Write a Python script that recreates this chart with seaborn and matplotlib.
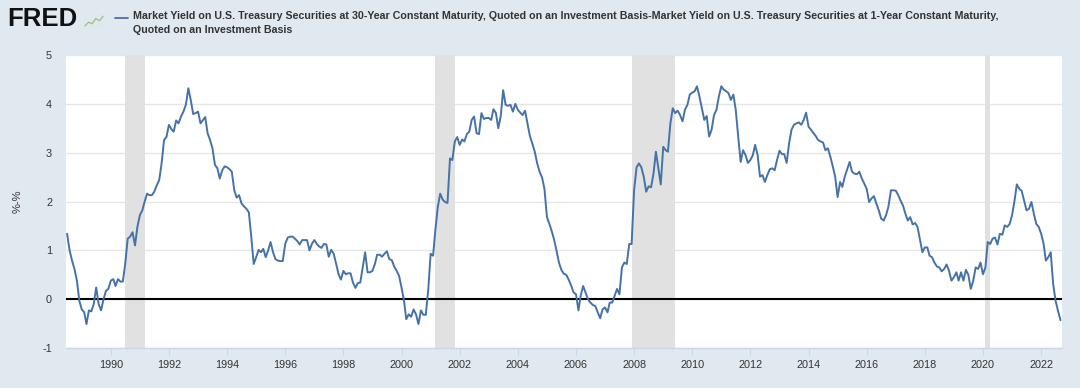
import matplotlib
matplotlib.use("Agg")
import matplotlib.pyplot as plt
import pandas as pd
import seaborn as sns

# ---------------- data ----------------
start_month = "1988-07-01"
spread_pct = [
    # 1988 (Jul-Dec)
    1.34, 1.00, 0.79, 0.62, 0.38, -0.03,
    # 1989
    -0.21, -0.27, -0.51, -0.23, -0.25, -0.10, 0.24, -0.10, -0.23, 0.00, 0.17, 0.21,
    # 1990
    0.38, 0.41, 0.27, 0.41, 0.36, 0.36, 0.72, 1.24, 1.28, 1.37, 1.10, 1.48,
    # 1991
    1.72, 1.82, 1.99, 2.16, 2.13, 2.13, 2.20, 2.33, 2.44, 2.78, 3.26, 3.32,
    # 1992
    3.57, 3.48, 3.43, 3.66, 3.60, 3.74, 3.84, 3.98, 4.32, 4.08, 3.79, 3.81,
    # 1993
    3.84, 3.60, 3.66, 3.73, 3.40, 3.26, 3.09, 2.75, 2.68, 2.47, 2.64, 2.72,
    # 1994
    2.70, 2.66, 2.61, 2.23, 2.08, 2.13, 1.96, 1.90, 1.85, 1.78, 1.27, 0.72,
    # 1995
    0.86, 1.01, 0.96, 1.03, 0.86, 1.00, 1.17, 0.96, 0.82, 0.79, 0.78, 0.78,
    # 1996
    1.13, 1.26, 1.28, 1.28, 1.24, 1.19, 1.12, 1.21, 1.21, 1.21, 1.00, 1.13,
    # 1997
    1.21, 1.13, 1.08, 1.05, 1.13, 1.12, 0.87, 1.01, 0.93, 0.73, 0.51, 0.40,
    # 1998
    0.58, 0.51, 0.53, 0.53, 0.34, 0.23, 0.33, 0.34, 0.65, 0.96, 0.55, 0.55,
    # 1999
    0.58, 0.72, 0.91, 0.91, 0.87, 0.93, 0.98, 0.82, 0.80, 0.67, 0.58, 0.48,
    # 2000
    0.24, -0.03, -0.41, -0.31, -0.36, -0.21, -0.31, -0.51, -0.23, -0.32, -0.32, 0.17,
    # 2001
    0.93, 0.89, 1.41, 1.89, 2.16, 2.04, 1.99, 1.97, 2.88, 2.85, 3.23, 3.32,
    # 2002
    3.16, 3.27, 3.23, 3.38, 3.43, 3.67, 3.74, 3.40, 3.38, 3.81, 3.69, 3.71,
    # 2003
    3.71, 3.67, 3.89, 3.81, 3.50, 3.75, 4.28, 3.98, 3.96, 3.98, 3.84, 4.00,
    # 2004
    3.88, 3.82, 3.77, 3.86, 3.60, 3.34, 3.19, 3.02, 2.78, 2.61, 2.49, 2.26,
    # 2005
    1.68, 1.54, 1.40, 1.22, 1.00, 0.75, 0.60, 0.52, 0.50, 0.40, 0.28, 0.14,
    # 2006
    0.10, -0.23, 0.07, 0.27, 0.14, 0.00, -0.07, -0.12, -0.14, -0.27, -0.39, -0.21,
    # 2007
    -0.17, -0.27, -0.07, -0.07, 0.07, 0.21, 0.10, 0.65, 0.75, 0.72, 1.13, 1.13,
    # 2008
    2.23, 2.70, 2.78, 2.70, 2.51, 2.20, 2.31, 2.29, 2.57, 3.02, 2.68, 2.35,
    # 2009
    3.12, 3.05, 3.02, 3.60, 3.91, 3.81, 3.86, 3.77, 3.64, 3.88, 3.98, 4.19,
    # 2010
    4.23, 4.26, 4.36, 4.15, 3.91, 3.67, 3.75, 3.33, 3.47, 3.77, 3.88, 4.15,
    # 2011
    4.36, 4.29, 4.26, 4.22, 4.08, 4.19, 3.88, 3.33, 2.81, 3.05, 2.95, 2.79,
    # 2012
    2.85, 2.95, 3.16, 2.95, 2.51, 2.54, 2.40, 2.54, 2.66, 2.68, 2.64, 2.85,
    # 2013
    3.04, 2.97, 2.97, 2.79, 3.19, 3.47, 3.57, 3.60, 3.62, 3.57, 3.67, 3.82,
    # 2014
    3.53, 3.47, 3.41, 3.34, 3.26, 3.23, 3.21, 3.05, 3.09, 2.92, 2.72, 2.51,
    # 2015
    2.09, 2.40, 2.30, 2.51, 2.66, 2.81, 2.61, 2.57, 2.56, 2.61, 2.47, 2.37,
    # 2016
    2.26, 1.99, 2.06, 2.11, 1.96, 1.82, 1.65, 1.61, 1.72, 1.90, 2.23, 2.23,
    # 2017
    2.22, 2.13, 2.02, 1.92, 1.75, 1.61, 1.68, 1.53, 1.56, 1.48, 1.21, 0.96,
    # 2018
    1.06, 1.06, 0.89, 0.86, 0.75, 0.67, 0.65, 0.57, 0.62, 0.71, 0.58, 0.38,
    # 2019
    0.45, 0.55, 0.38, 0.55, 0.38, 0.60, 0.50, 0.21, 0.38, 0.65, 0.62, 0.75,
    # 2020
    0.51, 0.65, 1.17, 1.13, 1.24, 1.26, 1.12, 1.34, 1.32, 1.51, 1.48, 1.54,
    # 2021
    1.72, 2.02, 2.35, 2.26, 2.22, 2.02, 1.82, 1.85, 1.99, 1.75, 1.54, 1.48,
    # 2022 (Jan-Sep)
    1.34, 1.13, 0.79, 0.86, 0.96, 0.31, -0.03, -0.24, -0.43,
]
recession_starts = ["1990-07-01", "2001-03-01", "2007-12-01", "2020-02-01"]
recession_ends = ["1991-03-01", "2001-11-01", "2009-06-01", "2020-04-01"]
y_ticks = [-1, 0, 1, 2, 3, 4, 5]
x_tick_years = list(range(1990, 2023, 2))
x_range = ["1988-06-17", "2022-09-20"]
series_title = ("Market Yield on U.S. Treasury Securities at 30-Year Constant Maturity, "
                "Quoted on an Investment Basis-Market Yield on U.S. Treasury Securities "
                "at 1-Year Constant Maturity,\nQuoted on an Investment Basis")
y_label = "%-%"
logo_icon = [0.2, 0.45, 0.35, 0.7, 0.55, 0.85]

# ---------------- figure ----------------
dates = pd.date_range(start_month, periods=len(spread_pct), freq="MS")
df = pd.DataFrame({"date": dates, "spread": spread_pct})

sns.set_theme(style="white")
plt.rcParams["font.family"] = ["Liberation Sans", "DejaVu Sans"]

W, H = 1080, 388
bg = "#e1e9f0"
fig = plt.figure(figsize=(W / 100, H / 100), dpi=100, facecolor=bg)
ax = fig.add_axes([66 / W, 1 - 348 / H, 996 / W, 293 / H])
ax.set_facecolor("white")

for s, e in zip(recession_starts, recession_ends):
    ax.axvspan(pd.Timestamp(s), pd.Timestamp(e), color="#e1e1e1", lw=0, zorder=1)

ax.axhline(0, color="black", lw=1.5, zorder=2)
sns.lineplot(data=df, x="date", y="spread", ax=ax, color="#4572a7", lw=1.4, zorder=3)

ax.set_ylim(-1, 5)
ax.set_yticks(y_ticks)
ax.set_yticklabels([str(v) for v in y_ticks])
ax.yaxis.grid(True, color="#e6e6e6", lw=1)
ax.set_axisbelow(True)
ax.set_xlim(pd.Timestamp(x_range[0]), pd.Timestamp(x_range[1]))
ax.set_xticks([pd.Timestamp(f"{y}-01-01") for y in x_tick_years])
ax.set_xticklabels([str(y) for y in x_tick_years])

for side in ["top", "right", "left"]:
    ax.spines[side].set_visible(False)
ax.spines["bottom"].set_color("#ccd6eb")
ax.spines["bottom"].set_linewidth(1)

ax.tick_params(axis="x", length=5, width=0.8, color="#ccd6eb", pad=3.5,
               labelsize=7.8, labelcolor="#333333", direction="out", bottom=True)
ax.tick_params(axis="y", length=0, pad=10, labelsize=7.8, labelcolor="#333333")
ax.set_xlabel("")
ax.set_ylabel("")
fig.text(18 / W, 1 - 201 / H, y_label, rotation=90, fontsize=8, color="#333333",
         ha="center", va="center")

# header: FRED logo + legend
fig.text(7 / W, 1 - 19 / H, "FRED", fontsize=18.5, fontweight="heavy", color="#111111",
         ha="left", va="center")
iax = fig.add_axes([84 / W, 1 - 29 / H, 20 / W, 15 / H])
iax.set_facecolor("#dfe8ee")
iax.plot(range(len(logo_icon)), logo_icon, color="#9cc17a", lw=0.9)
iax.set_xticks([]); iax.set_yticks([])
for sp in iax.spines.values():
    sp.set_visible(False)
iax.set_ylim(0, 1)

fig.lines.append(plt.Line2D([115 / W, 128 / W], [1 - 18 / H, 1 - 18 / H],
                            transform=fig.transFigure, color="#4572a7", lw=1.3))
fig.text(133 / W, 1 - 11 / H, series_title, fontsize=7.7, fontweight="bold",
         color="#333333", ha="left", va="top", linespacing=1.45)

fig.savefig("out.png", dpi=100, facecolor=bg)
